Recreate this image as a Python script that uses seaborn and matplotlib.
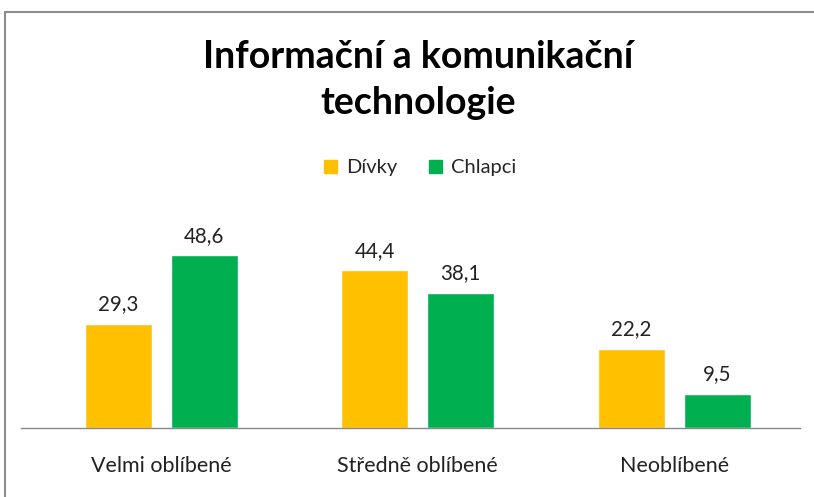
import pandas as pd
import seaborn as sns
import matplotlib.pyplot as plt
from matplotlib.patches import Rectangle

categories = ["Velmi oblíbené", "Středně oblíbené", "Neoblíbené"]
divky = [29.3, 44.4, 22.2]
chlapci = [48.6, 38.1, 9.5]
series = ["Dívky", "Chlapci"]
colors = ["#FFC000", "#00B050"]

df = pd.DataFrame({
    "kategorie": categories * 2,
    "skupina": [series[0]] * 3 + [series[1]] * 3,
    "hodnota": divky + chlapci,
})

sns.set_theme(style="white")
plt.rcParams["font.family"] = ["Lato", "DejaVu Sans"]

fig = plt.figure(figsize=(8.14, 4.97), dpi=100)
ax = fig.add_axes([21 / 814, 69 / 497, 779 / 814, 208 / 497])

sns.barplot(data=df, x="kategorie", y="hodnota", hue="skupina",
            palette=colors, saturation=1, width=0.67, gap=0.22, ax=ax, legend=False)

for cont in ax.containers:
    ax.bar_label(cont, labels=[f"{v:.1f}".replace(".", ",") for v in cont.datavalues],
                 padding=7, fontsize=14.8, color="#222222")

ax.set_xlim(-0.546, 2.49)
ax.set_ylim(0, 58.6)
ax.set_xlabel("")
ax.set_ylabel("")
ax.set_yticks([])
ax.tick_params(axis="x", length=0, pad=20, labelsize=15.5, labelcolor="#222222")
for s in ["top", "right", "left"]:
    ax.spines[s].set_visible(False)
ax.spines["bottom"].set_color("#888888")
ax.spines["bottom"].set_linewidth(1.0)

fig.text(0.514, 0.885, "Informační a komunikační", ha="center", va="center",
         fontsize=27, fontweight="bold", color="black")
fig.text(0.514, 0.793, "technologie", ha="center", va="center",
         fontsize=27, fontweight="bold", color="black")

# legend
handles = [Rectangle((0, 0), 1, 1, color=c) for c in colors]
fig.legend(handles, series, loc="center", bbox_to_anchor=(0.516, 1 - 168 / 497),
           ncol=2, frameon=False, fontsize=14.5, handlelength=0.62, handleheight=0.62,
           handletextpad=0.45, columnspacing=1.6)

# chart border
fig.patches.append(Rectangle((5 / 814, -0.1), 1.2, 1.1 - 12 / 497,
                             transform=fig.transFigure, fill=False,
                             edgecolor="#8c8c8c", linewidth=1.5))

fig.savefig("out.png", dpi=100)
